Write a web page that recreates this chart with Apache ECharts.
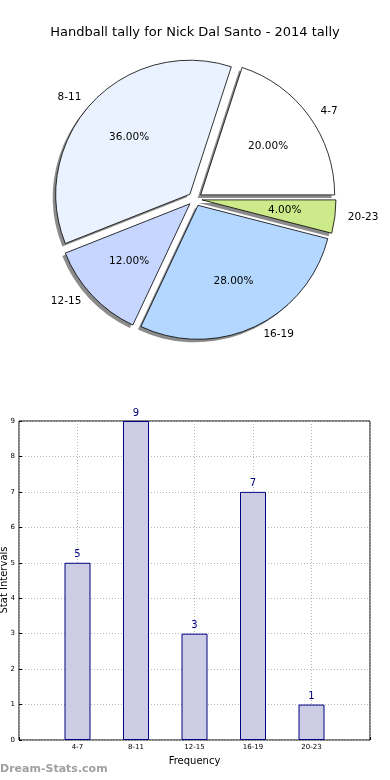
<!DOCTYPE html>
<html><head><meta charset="utf-8">
<script src="https://cdn.jsdelivr.net/npm/echarts@6/dist/echarts.min.js"></script>
<style>html,body{margin:0;padding:0;background:#fff}#c{width:390px;height:780px}</style>
</head><body><div id="c"></div>
<script>
var titleText = 'Handball tally for Nick Dal Santo - 2014 tally';
var categories = ['4-7', '8-11', '12-15', '16-19', '20-23'];
var counts = [5, 9, 3, 7, 1];
var sliceColors = ['#ffffff', '#ebf2ff', '#c6d6fe', '#b3d7fe', '#cdea8a'];
var yTicks = [0, 1, 2, 3, 4, 5, 6, 7, 8, 9];
var xAxisName = 'Frequency';
var yAxisName = 'Stat Intervals';
var watermark = 'Dream-Stats.com';

var total = counts.reduce(function (a, b) { return a + b; }, 0);
var FONT = 'DejaVu Sans';
var R = 134;
var OFF = 7;
var CX = 195, CY = 199;

var pieData = categories.map(function (c, i) {
  return { name: c, value: counts[i], selected: true, itemStyle: { color: sliceColors[i] } };
});
var plainData = categories.map(function (c, i) {
  return { name: c, value: counts[i], selected: true };
});
var barData = categories.map(function (c, i) { return [i + 1, counts[i]]; });

var chart = echarts.init(document.getElementById('c'), null, { renderer: 'canvas' });
chart.setOption({
  animation: false,
  backgroundColor: '#ffffff',
  title: {
    text: titleText, left: 'center', top: 21,
    textStyle: { fontFamily: FONT, fontSize: 13, fontWeight: 'normal', color: '#000' }
  },
  grid: {
    left: 19, right: 20, top: 421, bottom: 40,
    containLabel: false, outerBoundsMode: 'none',
    show: true, borderColor: '#000', borderWidth: 1, backgroundColor: 'transparent'
  },
  xAxis: {
    type: 'value', min: 0, max: categories.length + 1, interval: 1,
    name: xAxisName, nameLocation: 'middle', nameGap: 16,
    nameTextStyle: { fontFamily: FONT, fontSize: 10, color: '#000' },
    axisLine: { show: false },
    axisTick: { show: true, inside: true, length: 3, lineStyle: { color: '#000' } },
    axisLabel: {
      fontFamily: FONT, fontSize: 7, color: '#000', margin: 4,
      formatter: function (v) { return categories[v - 1] || ''; }
    },
    splitLine: { show: true, lineStyle: { color: '#b8b8b8', type: [1, 2], width: 1 } }
  },
  yAxis: {
    type: 'value', min: 0, max: 9, interval: 1,
    axisLine: { show: false },
    axisTick: { show: true, inside: true, length: 3, lineStyle: { color: '#000' } },
    axisLabel: { fontFamily: FONT, fontSize: 7, color: '#000', margin: 4 },
    splitLine: { show: true, lineStyle: { color: '#b8b8b8', type: [1, 2], width: 1 } }
  },
  graphic: [{
    type: 'text', left: 0, top: 764,
    style: { text: watermark, fontFamily: FONT, fontSize: 11, fontWeight: 'bold', fill: '#a0a0a0' }
  }, {
    type: 'text', x: 4, y: 580, rotation: Math.PI / 2,
    style: {
      text: yAxisName, fontFamily: FONT, fontSize: 10, fill: '#000',
      align: 'center', verticalAlign: 'middle'
    }
  }],
  series: [
    {
      type: 'pie', center: [CX - 3, CY + 3], radius: [0, R],
      clockwise: false, startAngle: 0,
      selectedMode: 'multiple', selectedOffset: OFF,
      avoidLabelOverlap: false, silent: true,
      itemStyle: { color: 'rgba(110,110,110,0.8)', borderWidth: 0 },
      label: { show: false }, labelLine: { show: false },
      emphasis: { disabled: true },
      data: plainData,
      z: 1
    },
    {
      type: 'pie', center: [CX, CY], radius: [0, R],
      clockwise: false, startAngle: 0,
      selectedMode: 'multiple', selectedOffset: OFF,
      avoidLabelOverlap: false, silent: true,
      itemStyle: { borderColor: '#000', borderWidth: 0.8 },
      label: {
        show: true, position: 'outside', fontFamily: FONT, fontSize: 10.5, color: '#000',
        formatter: '{b}'
      },
      labelLine: { show: false, length: 8, length2: 0 },
      emphasis: { disabled: true },
      data: pieData,
      z: 2
    },
    {
      type: 'pie', center: [CX, CY], radius: [0, R * 1.2],
      clockwise: false, startAngle: 0,
      selectedMode: 'multiple', selectedOffset: OFF,
      avoidLabelOverlap: false, silent: true,
      itemStyle: { color: 'rgba(0,0,0,0)', borderWidth: 0 },
      label: {
        show: true, position: 'inside', fontFamily: FONT, fontSize: 10.5, color: '#000',
        formatter: function (p) { return (p.value / total * 100).toFixed(2) + '%'; }
      },
      labelLine: { show: false },
      emphasis: { disabled: true },
      data: plainData,
      z: 3
    },
    {
      type: 'bar', data: barData, barWidth: 26,
      itemStyle: { color: '#ccccE5', borderColor: '#000080', borderWidth: 1 },
      label: { show: true, position: 'top', distance: 3, fontFamily: FONT, fontSize: 10, color: '#000080' },
      emphasis: { disabled: true },
      z: 1
    }
  ]
});
</script></body></html>
